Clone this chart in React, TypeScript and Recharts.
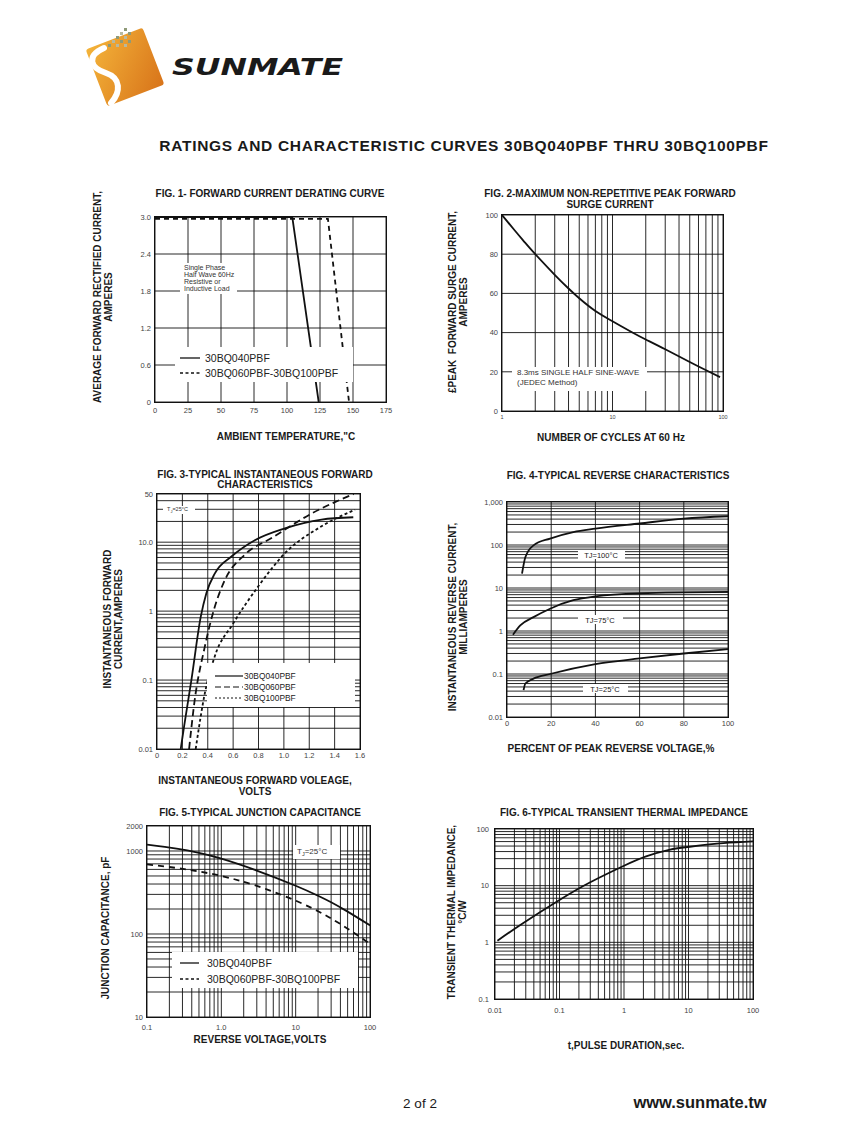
import React from 'react';
import { LineChart, Line, XAxis, YAxis, CartesianGrid } from 'recharts';

const FONT = '"Liberation Sans", Arial, Helvetica, sans-serif';
const INK = '#111';

// ---- Fig. 1 forward current derating ----
const fig1TempTicks = [0, 25, 50, 75, 100, 125, 150, 175];
const fig1TempLabels = ['0', '25', '50', '75', '100', '125', '150', '175'];
const fig1AmpTicks = [0, 0.6, 1.2, 1.8, 2.4, 3.0];
const fig1AmpLabels = ['0', '0.6', '1.2', '1.8', '2.4', '3.0'];
const fig1Temp040 = [0, 104, 124];
const fig1Amps040 = [3.0, 3.0, 0];
const fig1Temp060 = [0, 131, 147];
const fig1Amps060 = [2.97, 2.97, 0];

// ---- Fig. 2 peak forward surge current ----
const fig2CycleTicks = [1, 10, 100];
const fig2CycleLabels = ['1', '10', '100'];
const fig2AmpTicks = [0, 20, 40, 60, 80, 100];
const fig2AmpLabels = ['0', '20', '40', '60', '80', '100'];
const fig2Cycles = [1, 1.3, 1.6, 2, 3, 4, 5, 7, 10, 15, 20, 30, 50, 75, 94];
const fig2Amps = [100, 92.2, 86.2, 80, 69.5, 62.5, 57.5, 51, 45.8, 40.2, 36.5, 31.5, 25, 20, 17.3];

// ---- Fig. 3 forward characteristics ----
const fig3VoltTicks = [0, 0.2, 0.4, 0.6, 0.8, 1.0, 1.2, 1.4, 1.6];
const fig3VoltLabels = ['0', '0.2', '0.4', '0.6', '0.8', '1.0', '1.2', '1.4', '1.6'];
const fig3AmpTicks = [0.01, 0.1, 1, 10, 50];
const fig3AmpLabels = ['0.01', '0.1', '1', '10.0', '50'];
const fig3V040 = [0.187, 0.213, 0.271, 0.345, 0.389, 0.455, 0.587, 0.771, 1.008, 1.297, 1.547];
const fig3I040 = [0.01, 0.021, 0.1, 0.83, 1.82, 3.5, 6.2, 10.7, 15.9, 21.3, 23];
const fig3V060 = [0.253, 0.297, 0.376, 0.455, 0.534, 0.692, 0.903, 1.218, 1.55];
const fig3I060 = [0.01, 0.051, 0.3, 1.15, 2.8, 6.6, 11.5, 26, 50];
const fig3V100 = [0.305, 0.376, 0.455, 0.6, 0.797, 1.008, 1.297, 1.56];
const fig3I100 = [0.01, 0.063, 0.22, 0.66, 2.27, 6.9, 17, 29.5];

// ---- Fig. 4 reverse characteristics ----
const fig4PctTicks = [0, 20, 40, 60, 80, 100];
const fig4PctLabels = ['0', '20', '40', '60', '80', '100'];
const fig4MaTicks = [0.01, 0.1, 1, 10, 100, 1000];
const fig4MaLabels = ['0.01', '0.1', '1', '10', '100', '1,000'];
const fig4Pct100 = [6.8, 8.3, 12, 19.5, 30, 40, 60, 80, 100];
const fig4Ma100 = [21.6, 52, 98, 141, 200, 240, 316, 410, 466];
const fig4Pct75 = [2.7, 6, 12, 19.5, 30, 40, 60, 100];
const fig4Ma75 = [0.82, 1.35, 2.1, 3.3, 5.2, 6.4, 7.5, 8.1];
const fig4Pct25 = [7.5, 8.3, 12, 19.5, 40, 60, 80, 100];
const fig4Ma25 = [0.042, 0.06, 0.078, 0.1, 0.17, 0.23, 0.3, 0.38];

// ---- Fig. 5 junction capacitance ----
const fig5VoltTicks = [0.1, 1, 10, 100];
const fig5VoltLabels = ['0.1', '1.0', '10', '100'];
const fig5PfTicks = [10, 100, 1000, 2000];
const fig5PfLabels = ['10', '100', '1000', '2000'];
const fig5Volts = [0.1, 0.25, 0.5, 1, 3, 10, 20, 30, 50, 100];
const fig5Pf040 = [1190, 1066, 947, 808, 581, 381, 289, 241, 186, 127];
const fig5Pf060 = [690, 624, 566, 500, 380, 252, 188, 154, 116, 76];

// ---- Fig. 6 transient thermal impedance ----
const fig6SecTicks = [0.01, 0.1, 1, 10, 100];
const fig6SecLabels = ['0.01', '0.1', '1', '10', '100'];
const fig6ZTicks = [0.1, 1, 10, 100];
const fig6ZLabels = ['0.1', '1', '10', '100'];
const fig6Sec = [0.0109, 0.0275, 0.1, 0.3, 1, 2.2, 5, 10.5, 34.6, 100];
const fig6Z = [1.07, 2.2, 5.6, 11.5, 22.5, 32.9, 42.8, 48.6, 56.1, 60.4];

// grid lines of a log axis: 1..9 of every decade
function logGrid(lo: number, hi: number) {
  const out: number[] = [];
  for (let d = Math.pow(10, Math.floor(Math.log10(lo))); d < hi; d *= 10) {
    for (let m = 1; m < 10; m++) {
      const v = +(d * m).toPrecision(3);
      if (v >= lo && v <= hi) out.push(v);
    }
  }
  if (out[out.length - 1] !== hi) out.push(hi);
  return out;
}

const makeTick =
  (vals: number[], text: string[], axis: 'x' | 'y', off: number, fs: number) =>
  (props: any) => {
    const { x, y, payload } = props;
    const v = payload.value;
    const i = vals.findIndex((t) => Math.abs(t - v) <= Math.abs(t) * 1e-6 + 1e-9);
    if (i < 0) return <g />;
    if (axis === 'x') {
      return (
        <text x={x} y={y + off} dy={fs * 0.36} textAnchor="middle" fontSize={fs} fill="#444" fontFamily={FONT}>
          {text[i]}
        </text>
      );
    }
    return (
      <text x={x - off} y={y} dy={fs * 0.36} textAnchor="end" fontSize={fs} fill="#444" fontFamily={FONT}>
        {text[i]}
      </text>
    );
  };

type Series = { xs: number[]; ys: number[]; dash?: string; kind?: 'linear' | 'monotone' | 'natural' };

interface PlotProps {
  x: number;
  y: number;
  w: number;
  h: number;
  xDomain: [number, number];
  yDomain: [number, number];
  xLog?: boolean;
  yLog?: boolean;
  xGrid: number[];
  yGrid: number[];
  xTickVals: number[];
  xTickText: string[];
  yTickVals: number[];
  yTickText: string[];
  xFont?: number;
  yFont?: number;
  xOff: number;
  yOff: number;
  series: Series[];
}

function Plot(p: PlotProps) {
  const L = 46;
  const R = 14;
  const T = 10;
  const B = 24;
  return (
    <div style={{ position: 'absolute', left: p.x - L, top: p.y - T }}>
      <LineChart width={p.w + L + R} height={p.h + T + B} margin={{ top: T, right: R, bottom: 0, left: 0 }}>
        <CartesianGrid stroke={INK} strokeWidth={0.9} />
        <XAxis
          type="number"
          dataKey="x"
          scale={p.xLog ? 'log' : 'linear'}
          domain={p.xDomain}
          allowDataOverflow
          ticks={p.xGrid}
          interval={0}
          height={B}
          tickSize={0}
          tickMargin={0}
          axisLine={false}
          tickLine={false}
          tick={makeTick(p.xTickVals, p.xTickText, 'x', p.xOff, p.xFont ?? 7.5)}
        />
        <YAxis
          type="number"
          dataKey="y"
          scale={p.yLog ? 'log' : 'linear'}
          domain={p.yDomain}
          allowDataOverflow
          ticks={p.yGrid}
          interval={0}
          width={L}
          tickSize={0}
          tickMargin={0}
          axisLine={false}
          tickLine={false}
          tick={makeTick(p.yTickVals, p.yTickText, 'y', p.yOff, p.yFont ?? 7.5)}
        />
        {p.series.map((s, i) => (
          <Line
            key={i}
            data={s.xs.map((x, j) => ({ x, y: s.ys[j] }))}
            dataKey="y"
            type={s.kind ?? 'monotone'}
            stroke={INK}
            strokeWidth={1.8}
            strokeDasharray={s.dash}
            dot={false}
            activeDot={false}
            isAnimationActive={false}
          />
        ))}
      </LineChart>
      <div
        style={{
          position: 'absolute',
          left: L - 0.7,
          top: T - 0.7,
          width: p.w + 1.4,
          height: p.h + 1.4,
          border: '1.4px solid #111',
          boxSizing: 'border-box',
          pointerEvents: 'none',
        }}
      />
    </div>
  );
}

function Txt({ cx, cy, size = 10, bold = true, children, lh, ls }: any) {
  return (
    <div
      style={{
        position: 'absolute',
        left: cx,
        top: cy,
        transform: 'translate(-50%, -50%)',
        whiteSpace: 'pre',
        textAlign: 'center',
        fontSize: size,
        fontWeight: bold ? 'bold' : 'normal',
        lineHeight: lh ? `${lh}px` : 'normal',
        letterSpacing: ls ?? 'normal',
        color: '#1a1a1a',
      }}
    >
      {children}
    </div>
  );
}

function VTxt({ cx, cy, size = 10, lh = 11, children }: any) {
  return (
    <div
      style={{
        position: 'absolute',
        left: cx,
        top: cy,
        transform: 'translate(-50%, -50%) rotate(-90deg)',
        whiteSpace: 'pre',
        textAlign: 'center',
        fontSize: size,
        fontWeight: 'bold',
        lineHeight: `${lh}px`,
        color: '#1a1a1a',
      }}
    >
      {children}
    </div>
  );
}

function WBox({ x, y, w, h }: any) {
  return <div style={{ position: 'absolute', left: x, top: y, width: w, height: h, background: '#fff' }} />;
}

function Sample({ x, y, w, dash, sw = 1.3 }: any) {
  return (
    <svg style={{ position: 'absolute', left: x, top: y - 2 }} width={w} height={4}>
      <line x1={0} y1={2} x2={w} y2={2} stroke={INK} strokeWidth={sw} strokeDasharray={dash} />
    </svg>
  );
}

function Label({ x, y, size, children }: any) {
  return (
    <div
      style={{
        position: 'absolute',
        left: x,
        top: y,
        transform: 'translateY(-50%)',
        whiteSpace: 'pre',
        fontSize: size,
        lineHeight: 'normal',
        color: '#222',
      }}
    >
      {children}
    </div>
  );
}

function Logo() {
  const dots = [
    [108, 44], [112, 40], [116, 36], [120, 32], [124, 28],
    [116, 44], [120, 40], [124, 36], [128, 32],
    [124, 44], [128, 40],
  ];
  return (
    <svg style={{ position: 'absolute', left: 0, top: 0 }} width={360} height={115}>
      <defs>
        <linearGradient id="logoFill" x1="0" y1="0" x2="1" y2="1">
          <stop offset="0" stopColor="#f4b43a" />
          <stop offset="1" stopColor="#d8741a" />
        </linearGradient>
      </defs>
      <g transform="translate(125 67) rotate(-21)">
        <rect x={-30.5} y={-30.5} width={61} height={61} rx={3} fill="url(#logoFill)" />
      </g>
      <path
        d="M 104 48 C 86 56, 90 68, 106 73 C 121 78, 121 92, 111 103"
        stroke="#fff"
        strokeWidth={6}
        fill="none"
        strokeLinecap="round"
      />
      {dots.map(([dx, dy], i) => (
        <rect key={i} x={dx} y={dy} width={3} height={3} fill={i % 2 ? '#b7b9a0' : '#8f9a78'} />
      ))}
      <text
        x={172}
        y={75}
        fontSize={23}
        fontWeight="bold"
        fontStyle="italic"
        fontFamily='"DejaVu Sans", sans-serif'
        textLength={171}
        lengthAdjust="spacingAndGlyphs"
        fill="#1a1a1a"
      >
        SUNMATE
      </text>
    </svg>
  );
}

export default function App() {
  return (
    <div
      style={{
        position: 'absolute',
        left: 0,
        top: 0,
        width: 847,
        height: 1125,
        background: '#fff',
        fontFamily: FONT,
        overflow: 'hidden',
      }}
    >
      <Logo />
      <Txt cx={464} cy={146} size={15.5} ls="0.7px">
        RATINGS AND CHARACTERISTIC CURVES 30BQ040PBF THRU 30BQ100PBF
      </Txt>

      {/* Fig. 1 */}
      <Txt cx={270} cy={193}>FIG. 1- FORWARD CURRENT DERATING CURVE</Txt>
      <VTxt cx={102.5} cy={297}>{'AVERAGE FORWARD RECTIFIED CURRENT,\nAMPERES'}</VTxt>
      <Txt cx={286} cy={436}>AMBIENT TEMPERATURE,"C</Txt>
      <Plot
        x={155}
        y={217}
        w={231}
        h={185}
        xDomain={[0, 175]}
        yDomain={[0, 3]}
        xGrid={fig1TempTicks}
        yGrid={fig1AmpTicks}
        xTickVals={fig1TempTicks}
        xTickText={fig1TempLabels}
        yTickVals={fig1AmpTicks}
        yTickText={fig1AmpLabels}
        xOff={8}
        yOff={4}
        series={[
          { xs: fig1Temp040, ys: fig1Amps040, kind: 'linear' },
          { xs: fig1Temp060, ys: fig1Amps060, kind: 'linear', dash: '5 4' },
        ]}
      />
      <WBox x={180} y={263} w={57} h={31} />
      <div style={{ position: 'absolute', left: 184, top: 264, fontSize: 7, lineHeight: '7px', color: '#333', whiteSpace: 'pre' }}>
        {'Single Phase\nHalf Wave 60Hz\nResistive or\nInductive Load'}
      </div>
      <WBox x={175} y={347} w={178} h={35} />
      <Sample x={180} y={358} w={20} />
      <Label x={205} y={358} size={10.5}>30BQ040PBF</Label>
      <Sample x={180} y={373} w={20} dash="3 2.5" />
      <Label x={205} y={373} size={10.5}>30BQ060PBF-30BQ100PBF</Label>

      {/* Fig. 2 */}
      <Txt cx={610} cy={198.5} lh={11}>{'FIG. 2-MAXIMUM NON-REPETITIVE PEAK FORWARD\nSURGE CURRENT'}</Txt>
      <VTxt cx={457.5} cy={302}>{'£PEAK  FORWARD SURGE CURRENT,\nAMPERES'}</VTxt>
      <Txt cx={611} cy={437}>NUMBER OF CYCLES AT 60 Hz</Txt>
      <Plot
        x={502}
        y={215}
        w={221}
        h={196}
        xLog
        xDomain={[1, 100]}
        yDomain={[0, 100]}
        xGrid={logGrid(1, 100)}
        yGrid={fig2AmpTicks}
        xTickVals={fig2CycleTicks}
        xTickText={fig2CycleLabels}
        yTickVals={fig2AmpTicks}
        yTickText={fig2AmpLabels}
        xFont={5.5}
        xOff={6}
        yOff={4}
        series={[{ xs: fig2Cycles, ys: fig2Amps, kind: 'natural' }]}
      />
      <WBox x={512} y={367} w={135} h={24} />
      <div style={{ position: 'absolute', left: 517, top: 368, fontSize: 8, lineHeight: '10px', color: '#333', whiteSpace: 'pre' }}>
        {'8.3ms SINGLE HALF SINE-WAVE\n(JEDEC Method)'}
      </div>

      {/* Fig. 3 */}
      <Txt cx={265} cy={480} lh={10}>{'FIG. 3-TYPICAL INSTANTANEOUS FORWARD\nCHARACTERISTICS'}</Txt>
      <VTxt cx={112.5} cy={619}>{'INSTANTANEOUS FORWARD\nCURRENT,AMPERES'}</VTxt>
      <Txt cx={255} cy={785.5} lh={11}>{'INSTANTANEOUS FORWARD VOLEAGE,\nVOLTS'}</Txt>
      <Plot
        x={157}
        y={494}
        w={203}
        h={255}
        yLog
        xDomain={[0, 1.6]}
        yDomain={[0.01, 50]}
        xGrid={fig3VoltTicks}
        yGrid={logGrid(0.01, 50)}
        xTickVals={fig3VoltTicks}
        xTickText={fig3VoltLabels}
        yTickVals={fig3AmpTicks}
        yTickText={fig3AmpLabels}
        xOff={6}
        yOff={4}
        series={[
          { xs: fig3V040, ys: fig3I040 },
          { xs: fig3V060, ys: fig3I060, dash: '7 4' },
          { xs: fig3V100, ys: fig3I100, dash: '3 2.5' },
        ]}
      />
      <WBox x={163} y={506} w={32} h={8} />
      <div style={{ position: 'absolute', left: 167, top: 510, transform: 'translateY(-50%)', fontSize: 5.5, color: '#333', whiteSpace: 'pre' }}>
        T<sub style={{ fontSize: 4 }}>J</sub>=25°C
      </div>
      <WBox x={207} y={663} w={148} h={44} />
      <Sample x={215} y={676} w={28} sw={1.2} />
      <Label x={244} y={676} size={8.4}>30BQ040PBF</Label>
      <Sample x={215} y={687} w={28} sw={1.2} dash="6 3" />
      <Label x={244} y={687} size={8.4}>30BQ060PBF</Label>
      <Sample x={215} y={698} w={28} sw={1.2} dash="2 2" />
      <Label x={244} y={698} size={8.4}>30BQ100PBF</Label>

      {/* Fig. 4 */}
      <Txt cx={618} cy={475}>FIG. 4-TYPICAL REVERSE CHARACTERISTICS</Txt>
      <VTxt cx={457.5} cy={617}>{'INSTANTANEOUS REVERSE CURRENT,\nMILLIAMPERES'}</VTxt>
      <Txt cx={611} cy={748}>PERCENT OF PEAK REVERSE VOLTAGE,%</Txt>
      <Plot
        x={507}
        y={502}
        w={221}
        h={215}
        yLog
        xDomain={[0, 100]}
        yDomain={[0.01, 1000]}
        xGrid={fig4PctTicks}
        yGrid={logGrid(0.01, 1000)}
        xTickVals={fig4PctTicks}
        xTickText={fig4PctLabels}
        yTickVals={fig4MaTicks}
        yTickText={fig4MaLabels}
        xOff={6}
        yOff={4}
        series={[
          { xs: fig4Pct100, ys: fig4Ma100 },
          { xs: fig4Pct75, ys: fig4Ma75 },
          { xs: fig4Pct25, ys: fig4Ma25 },
        ]}
      />
      <WBox x={578} y={550} w={47} h={9} />
      <Txt cx={601} cy={554.5} size={7.5} bold={false}>TJ=100°C</Txt>
      <WBox x={578} y={615} w={45} h={9} />
      <Txt cx={600} cy={619.5} size={7.5} bold={false}>TJ=75°C</Txt>
      <WBox x={583} y={684} w={45} h={9} />
      <Txt cx={605} cy={688.5} size={7.5} bold={false}>TJ=25°C</Txt>

      {/* Fig. 5 */}
      <Txt cx={260} cy={812}>FIG. 5-TYPICAL JUNCTION CAPACITANCE</Txt>
      <VTxt cx={105} cy={928}>JUNCTION CAPACITANCE, pF</VTxt>
      <Txt cx={260} cy={1039}>REVERSE VOLTAGE,VOLTS</Txt>
      <Plot
        x={147}
        y={826}
        w={223}
        h={191}
        xLog
        yLog
        xDomain={[0.1, 100]}
        yDomain={[10, 2000]}
        xGrid={logGrid(0.1, 100)}
        yGrid={logGrid(10, 2000)}
        xTickVals={fig5VoltTicks}
        xTickText={fig5VoltLabels}
        yTickVals={fig5PfTicks}
        yTickText={fig5PfLabels}
        xOff={10}
        yOff={4}
        series={[
          { xs: fig5Volts, ys: fig5Pf040, kind: 'natural' },
          { xs: fig5Volts, ys: fig5Pf060, kind: 'natural', dash: '6 5' },
        ]}
      />
      <WBox x={293} y={845} w={47} h={14} />
      <div style={{ position: 'absolute', left: 297, top: 852, transform: 'translateY(-50%)', fontSize: 8, color: '#333', whiteSpace: 'pre' }}>
        T<sub style={{ fontSize: 5.5 }}>J</sub>=25°C
      </div>
      <WBox x={172} y={952} w={186} h={36} />
      <Sample x={180} y={963} w={19} />
      <Label x={207} y={963} size={10.5}>30BQ040PBF</Label>
      <Sample x={180} y={979} w={19} dash="3 2.5" />
      <Label x={207} y={979} size={10.5}>30BQ060PBF-30BQ100PBF</Label>

      {/* Fig. 6 */}
      <Txt cx={624} cy={812}>FIG. 6-TYPICAL TRANSIENT THERMAL IMPEDANCE</Txt>
      <VTxt cx={456.5} cy={912}>{'TRANSIENT THERMAL IMPEDANCE,\n°C/W'}</VTxt>
      <Txt cx={626} cy={1045}>t,PULSE DURATION,sec.</Txt>
      <Plot
        x={495}
        y={829}
        w={258}
        h={170}
        xLog
        yLog
        xDomain={[0.01, 100]}
        yDomain={[0.1, 100]}
        xGrid={logGrid(0.01, 100)}
        yGrid={logGrid(0.1, 100)}
        xTickVals={fig6SecTicks}
        xTickText={fig6SecLabels}
        yTickVals={fig6ZTicks}
        yTickText={fig6ZLabels}
        xOff={11}
        yOff={6}
        series={[{ xs: fig6Sec, ys: fig6Z, kind: 'natural' }]}
      />

      <Txt cx={420} cy={1103} size={13.5} bold={false}>2 of 2</Txt>
      <Txt cx={700} cy={1102} size={16.5}>www.sunmate.tw</Txt>
    </div>
  );
}
